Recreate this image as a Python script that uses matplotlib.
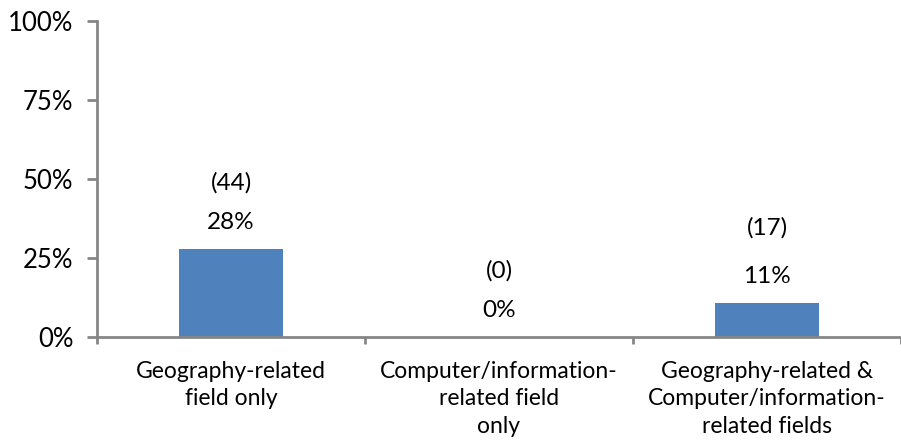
import matplotlib.pyplot as plt
from matplotlib.ticker import PercentFormatter

# data
categories = ["Geography-related\nfield only",
              "Computer/information-\nrelated field\nonly",
              "Geography-related &\nComputer/information-\nrelated fields"]
shares = [0.28, 0.0, 0.108]
counts = [44, 0, 17]
yticks = [0, 0.25, 0.5, 0.75, 1.0]

plt.rcParams['font.family'] = ['Lato', 'DejaVu Sans']

fig = plt.figure(figsize=(9.01, 4.44), dpi=100)
ax = fig.add_axes([97 / 901, 1 - 337 / 444, 1 - 97 / 901, (337 - 21) / 444])

x = list(range(len(categories)))
bars = ax.bar(x, shares, width=0.39, color="#4F81BD", zorder=2)

# percent and count labels above each bar (the last count sits a bit higher)
count_gap = [47.5, 47.5, 54]
for b, s, c, g in zip(bars, shares, counts, count_gap):
    cx = b.get_x() + b.get_width() / 2
    top = b.get_height()
    ax.annotate(f"{s:.0%}", (cx, top), xytext=(0, 19), textcoords="offset points",
                ha="center", va="center", fontsize=17.5, color="black")
    ax.annotate(f"({c})", (cx, top), xytext=(0, g), textcoords="offset points",
                ha="center", va="center", fontsize=17.5, color="black")

ax.set_xlim(-0.5, len(categories) - 0.5)
ax.set_ylim(0, 1)
ax.set_yticks(yticks)
ax.yaxis.set_major_formatter(PercentFormatter(1.0, decimals=0))

ax.set_xticks(x)
ax.set_xticklabels(categories, fontsize=16.5, linespacing=1.38, va="top")
ax.set_xticks([i - 0.5 for i in range(len(categories) + 1)], minor=True)
ax.tick_params(axis="x", which="major", length=0, pad=17)
ax.tick_params(axis="x", which="minor", length=5, width=2, color="#868686", direction="out")
ax.tick_params(axis="y", length=7, width=2, color="#868686", pad=10, labelsize=18.5)

for side in ["top", "right"]:
    ax.spines[side].set_visible(False)
for side in ["left", "bottom"]:
    ax.spines[side].set_color("#868686")
    ax.spines[side].set_linewidth(2)

fig.savefig("out.png", dpi=100)
